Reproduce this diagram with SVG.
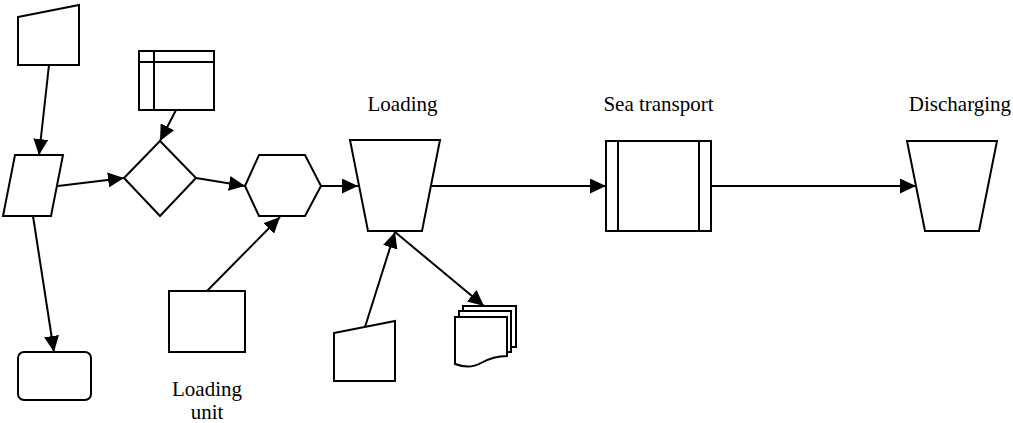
<svg xmlns="http://www.w3.org/2000/svg" width="1013" height="423" viewBox="0 0 1013 423">
<style>
.s{fill:#fff;stroke:#000;stroke-width:2;stroke-linejoin:miter}
.c{fill:none;stroke:#000;stroke-width:2;marker-end:url(#ah)}
.t{font-family:"Liberation Serif","Times New Roman",serif;font-size:21px;fill:#000;text-anchor:middle}
</style>
<defs>
<marker id="ah" viewBox="0 0 16 15" refX="16" refY="7.5" markerWidth="16" markerHeight="15" markerUnits="userSpaceOnUse" orient="auto">
<path d="M0,0 L16,7.5 L0,15 Z" fill="#000"/>
</marker>
</defs>
<rect width="1013" height="423" fill="#fff"/>
<g id="manual-input-top"><path class="s" d="M18,17 L79,5 L79,65 L18,65 Z"/></g>
<g id="data-io"><path class="s" d="M15,155 L63,155 L51,216 L3,216 Z"/></g>
<g id="terminal"><rect class="s" x="18" y="352" width="73" height="48" rx="6"/></g>
<g id="internal-storage"><rect class="s" x="139" y="51" width="75" height="59"/><path class="s" d="M139,62 H214 M154,51 V110"/></g>
<g id="decision"><path class="s" d="M124,178 L160,141 L196,178 L160,216 Z"/></g>
<g id="preparation"><path class="s" d="M245,186 L259,155 L305,155 L321,186 L305,216 L259,216 Z"/></g>
<g id="loading-unit"><rect class="s" x="169" y="291" width="76" height="61"/><text class="t" x="207" y="396">Loading</text><text class="t" x="207" y="419">unit</text></g>
<g id="loading"><path class="s" d="M350,140 L440,140 L422,231 L368,231 Z"/><text class="t" x="402.5" y="111">Loading</text></g>
<g id="manual-input-bottom"><path class="s" d="M334,333 L395,321 L395,381 L334,381 Z"/></g>
<g id="multi-document">
<rect class="s" x="463" y="306" width="53" height="41"/>
<rect class="s" x="459" y="311" width="52" height="41"/>
<path class="s" d="M455,317 L507,317 L507,356 C497,356 490,358 481,363 C472,368 463,367 455,364 Z"/>
</g>
<g id="sea-transport"><rect class="s" x="606" y="141" width="105" height="90"/><path class="s" d="M618,141 V231 M699,141 V231"/><text class="t" x="658.5" y="111">Sea transport</text></g>
<g id="discharging"><path class="s" d="M907,141 L997,141 L979,231 L925,231 Z"/><text class="t" x="960" y="111">Discharging</text></g>
<g id="connectors">
<path class="c" d="M49,65 L39,155"/>
<path class="c" d="M58,186 L124,178"/>
<path class="c" d="M33,216 L54,352"/>
<path class="c" d="M176,110 L160,141"/>
<path class="c" d="M196,178 L245,186"/>
<path class="c" d="M207,291 L280,217"/>
<path class="c" d="M321,186 L358,186"/>
<path class="c" d="M365,327 L395,232"/>
<path class="c" d="M395,232 L484,306"/>
<path class="c" d="M432,186 L606,186"/>
<path class="c" d="M711,186 L916,186"/>
</g>
</svg>
